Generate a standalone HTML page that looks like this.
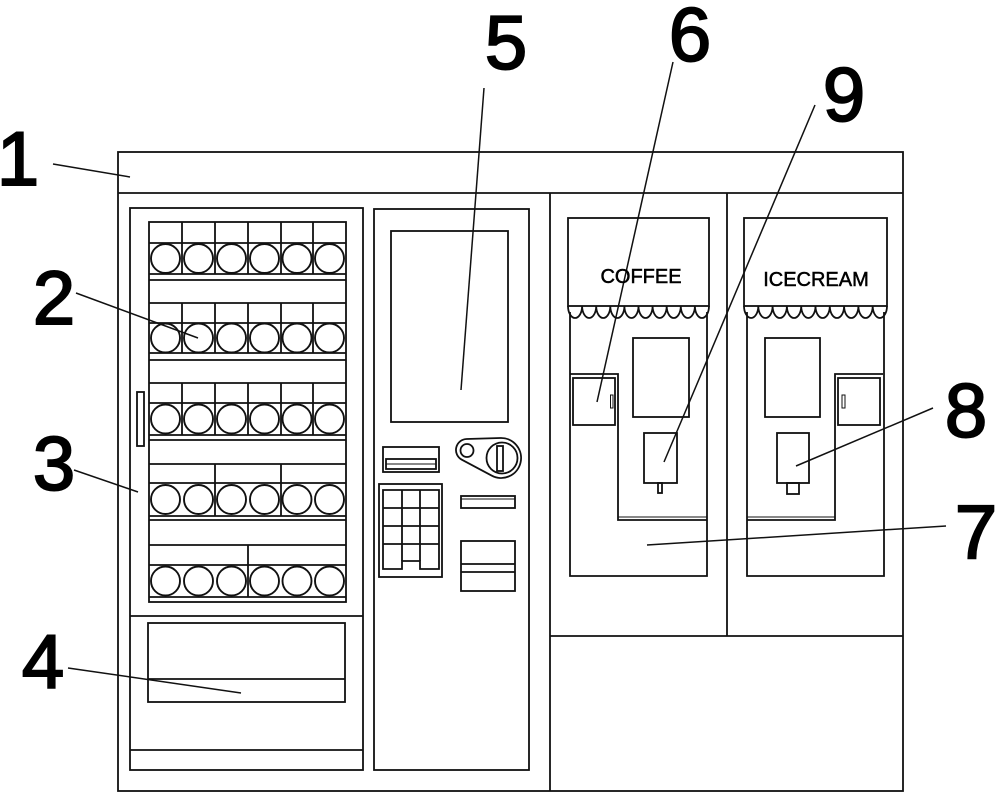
<!DOCTYPE html>
<html><head><meta charset="utf-8"><style>
html,body{margin:0;padding:0;background:#fff;}
svg{display:block;}
text{font-family:"Liberation Sans",Arial,sans-serif;fill:#000;}
</style></head><body>
<svg width="1000" height="798" viewBox="0 0 1000 798" xmlns="http://www.w3.org/2000/svg">
<rect width="1000" height="798" fill="#fff"/>
<g fill="none" stroke="#111" stroke-width="1.8">
  <!-- outer frame -->
  <rect x="118" y="152" width="785" height="639"/>
  <line x1="118" y1="193" x2="903" y2="193"/>
  <line x1="550" y1="193" x2="550" y2="791"/>
  <!-- left cabinet -->
  <rect x="130" y="208" width="233" height="562"/>
  <line x1="130" y1="616" x2="363" y2="616"/>
  <line x1="130" y1="750" x2="363" y2="750"/>
  <rect x="137" y="392" width="7" height="54"/>
  <rect x="148" y="623" width="197" height="79"/>
  <line x1="148" y1="679" x2="345" y2="679"/>
  <!-- shelves -->
  <rect x="149" y="222" width="197" height="380"/>
  <g>
    <line x1="149" y1="243" x2="346" y2="243"/>
    <line x1="149" y1="274" x2="346" y2="274"/>
    <line x1="149" y1="280" x2="346" y2="280"/>
    <line x1="149" y1="303" x2="346" y2="303"/>
    <line x1="149" y1="323" x2="346" y2="323"/>
    <line x1="149" y1="353" x2="346" y2="353"/>
    <line x1="149" y1="360" x2="346" y2="360"/>
    <line x1="149" y1="383" x2="346" y2="383"/>
    <line x1="149" y1="403" x2="346" y2="403"/>
    <line x1="149" y1="435" x2="346" y2="435"/>
    <line x1="149" y1="440" x2="346" y2="440"/>
    <line x1="149" y1="464" x2="346" y2="464"/>
    <line x1="149" y1="483" x2="346" y2="483"/>
    <line x1="149" y1="516" x2="346" y2="516"/>
    <line x1="149" y1="520" x2="346" y2="520"/>
    <line x1="149" y1="545" x2="346" y2="545"/>
    <line x1="149" y1="565" x2="346" y2="565"/>
    <line x1="149" y1="597" x2="346" y2="597"/>
  </g>
  <g>
    <path d="M182 222V274M215 222V274M248 222V274M281 222V274M313 222V274"/>
    <path d="M182 303V353M215 303V353M248 303V353M281 303V353M313 303V353"/>
    <path d="M182 383V435M215 383V435M248 383V435M281 383V435M313 383V435"/>
    <path d="M215 464V516M281 464V516"/>
    <path d="M248 545V597"/>
  </g>
  <g stroke-width="1.9">
    <circle cx="165.5" cy="258.5" r="14.5"/><circle cx="198.5" cy="258.5" r="14.5"/><circle cx="231.5" cy="258.5" r="14.5"/><circle cx="264.5" cy="258.5" r="14.5"/><circle cx="297" cy="258.5" r="14.5"/><circle cx="329.5" cy="258.5" r="14.5"/>
    <circle cx="165.5" cy="338" r="14.5"/><circle cx="198.5" cy="338" r="14.5"/><circle cx="231.5" cy="338" r="14.5"/><circle cx="264.5" cy="338" r="14.5"/><circle cx="297" cy="338" r="14.5"/><circle cx="329.5" cy="338" r="14.5"/>
    <circle cx="165.5" cy="419" r="14.5"/><circle cx="198.5" cy="419" r="14.5"/><circle cx="231.5" cy="419" r="14.5"/><circle cx="264.5" cy="419" r="14.5"/><circle cx="297" cy="419" r="14.5"/><circle cx="329.5" cy="419" r="14.5"/>
    <circle cx="165.5" cy="499.5" r="14.5"/><circle cx="198.5" cy="499.5" r="14.5"/><circle cx="231.5" cy="499.5" r="14.5"/><circle cx="264.5" cy="499.5" r="14.5"/><circle cx="297" cy="499.5" r="14.5"/><circle cx="329.5" cy="499.5" r="14.5"/>
    <circle cx="165.5" cy="581" r="14.5"/><circle cx="198.5" cy="581" r="14.5"/><circle cx="231.5" cy="581" r="14.5"/><circle cx="264.5" cy="581" r="14.5"/><circle cx="297" cy="581" r="14.5"/><circle cx="329.5" cy="581" r="14.5"/>
  </g>
  <!-- middle panel -->
  <rect x="374" y="209" width="155" height="561"/>
  <rect x="391" y="231" width="117" height="191"/>
  <rect x="383" y="447" width="56" height="25"/>
  <rect x="386" y="459" width="50" height="10"/>
  <line x1="386" y1="464" x2="436" y2="464" stroke-width="1"/>
  <path d="M466.7 439 L500.4 438 A20 20 0 1 1 491.6 475.6 L461.8 459.7 A11 11 0 0 1 466.7 439 Z"/>
  <circle cx="467" cy="450.5" r="6.5"/>
  <circle cx="502" cy="458" r="15.5"/>
  <rect x="497" y="446" width="6" height="25"/>
  <rect x="379" y="484" width="63" height="93"/>
  <path d="M383 490H439V569H420V561H402V569H383Z"/>
  <path d="M402 490V561M420 490V561M383 508H439M383 526H439M383 544H439"/>
  <rect x="461" y="496" width="54" height="12"/>
  <line x1="461" y1="499" x2="515" y2="499" stroke-width="1"/>
  <rect x="461" y="541" width="54" height="50"/>
  <line x1="461" y1="564" x2="515" y2="564"/>
  <line x1="461" y1="572" x2="515" y2="572"/>
  <!-- right section -->
  <line x1="727" y1="193" x2="727" y2="636"/>
  <line x1="550" y1="636" x2="903" y2="636"/>
  <!-- coffee unit -->
  <rect x="568" y="218" width="141" height="88"/>
  <path d="M568 306 a7.05 12 0 0 0 14.1 0 a7.05 12 0 0 0 14.1 0 a7.05 12 0 0 0 14.1 0 a7.05 12 0 0 0 14.1 0 a7.05 12 0 0 0 14.1 0 a7.05 12 0 0 0 14.1 0 a7.05 12 0 0 0 14.1 0 a7.05 12 0 0 0 14.1 0 a7.05 12 0 0 0 14.1 0 a7.05 12 0 0 0 14.1 0"/>
  <path d="M570 312V576H707V312"/>
  <rect x="633" y="338" width="56" height="79"/>
  <path d="M570 374H618V520H707"/>
  <line x1="618" y1="517" x2="707" y2="517" stroke-width="1"/>
  <rect x="573" y="378" width="42" height="47"/>
  <rect x="610.5" y="395" width="2.5" height="13" stroke-width="1"/>
  <rect x="644" y="433" width="33" height="50"/>
  <rect x="658" y="483" width="4" height="10"/>
  <!-- icecream unit -->
  <rect x="744" y="218" width="143" height="88"/>
  <path d="M744 306 a7.15 12 0 0 0 14.3 0 a7.15 12 0 0 0 14.3 0 a7.15 12 0 0 0 14.3 0 a7.15 12 0 0 0 14.3 0 a7.15 12 0 0 0 14.3 0 a7.15 12 0 0 0 14.3 0 a7.15 12 0 0 0 14.3 0 a7.15 12 0 0 0 14.3 0 a7.15 12 0 0 0 14.3 0 a7.15 12 0 0 0 14.3 0"/>
  <path d="M747 312V576H884V312"/>
  <rect x="765" y="338" width="55" height="79"/>
  <path d="M883 374H835V520H747"/>
  <line x1="747" y1="517" x2="835" y2="517" stroke-width="1"/>
  <rect x="838" y="378" width="42" height="47"/>
  <rect x="842" y="395" width="3" height="13" stroke-width="1"/>
  <rect x="777" y="433" width="32" height="50"/>
  <rect x="787" y="483" width="12" height="11"/>
</g>
<!-- leader lines -->
<g stroke="#111" stroke-width="1.5" fill="none">
  <line x1="53" y1="164" x2="130" y2="177"/>
  <line x1="76" y1="293" x2="198" y2="338"/>
  <line x1="74" y1="470" x2="138" y2="492"/>
  <line x1="68" y1="668" x2="241" y2="693"/>
  <line x1="484" y1="88" x2="461" y2="390"/>
  <line x1="673" y1="62" x2="597" y2="402"/>
  <line x1="815" y1="105" x2="664" y2="462"/>
  <line x1="933" y1="408" x2="796" y2="466"/>
  <line x1="946" y1="526" x2="647" y2="545"/>
</g>
<g stroke="#000" stroke-width="0.5">
<text x="641" y="283" font-size="20" text-anchor="middle">COFFEE</text>
<text x="816" y="286" font-size="20" text-anchor="middle">ICECREAM</text>
</g>
<g font-size="76" text-anchor="middle" stroke="#000" stroke-width="2">
  <text x="18" y="185">1</text>
  <text x="54" y="324">2</text>
  <text x="54" y="490">3</text>
  <text x="43" y="688">4</text>
  <text x="506" y="69">5</text>
  <text x="690" y="61">6</text>
  <text x="844" y="121">9</text>
  <text x="966" y="437">8</text>
  <text x="976" y="558">7</text>
</g>
</svg>
</body></html>
